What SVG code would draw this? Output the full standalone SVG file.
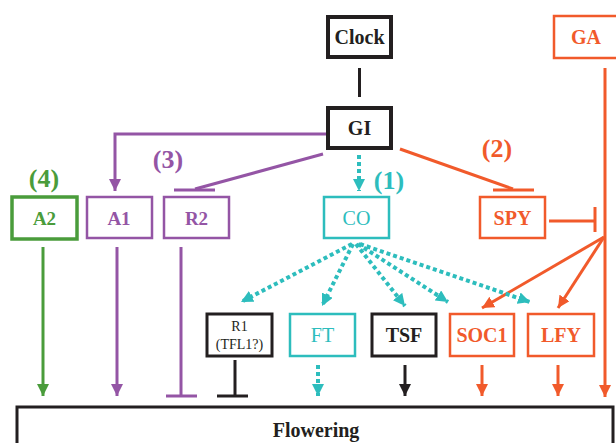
<svg xmlns="http://www.w3.org/2000/svg" width="616" height="443" viewBox="0 0 616 443">
  <style>
    .box { fill: #ffffff; }
    .lbl { font-family: 'Liberation Serif', 'Times New Roman', serif; text-anchor: middle; }
    .b { font-weight: bold; }
    .k { stroke: #231f20; }
    .o { stroke: #f15a2b; }
    .p { stroke: #9455a5; }
    .g { stroke: #4a9c3b; }
    .c { stroke: #2dbdbd; }
    .tk { fill: #231f20; }
    .to { fill: #f15a2b; }
    .tp { fill: #9455a5; }
    .tg { fill: #4a9c3b; }
    .tc { fill: #2dbdbd; }
    .ln { fill: none; stroke-width: 3; }
    .dot { fill: none; stroke-width: 4; stroke-dasharray: 4 3; }
  </style>
  <defs>
    <marker id="ah-k" viewBox="0 0 12 12" refX="12" refY="6" markerWidth="12" markerHeight="12" markerUnits="userSpaceOnUse" orient="auto"><path d="M0,0 L12,6 L0,12 Z" fill="#231f20"/></marker>
    <marker id="ah-o" viewBox="0 0 12 12" refX="12" refY="6" markerWidth="12" markerHeight="12" markerUnits="userSpaceOnUse" orient="auto"><path d="M0,0 L12,6 L0,12 Z" fill="#f15a2b"/></marker>
    <marker id="ah-p" viewBox="0 0 12 12" refX="12" refY="6" markerWidth="12" markerHeight="12" markerUnits="userSpaceOnUse" orient="auto"><path d="M0,0 L12,6 L0,12 Z" fill="#9455a5"/></marker>
    <marker id="ah-g" viewBox="0 0 12 12" refX="12" refY="6" markerWidth="12" markerHeight="12" markerUnits="userSpaceOnUse" orient="auto"><path d="M0,0 L12,6 L0,12 Z" fill="#4a9c3b"/></marker>
    <marker id="ah-c" viewBox="0 0 12 12" refX="12" refY="6" markerWidth="12" markerHeight="12" markerUnits="userSpaceOnUse" orient="auto"><path d="M0,0 L12,6 L0,12 Z" fill="#2dbdbd"/></marker>
  </defs>

  <!-- nodes -->
  <g id="clock"><rect class="box k" x="328" y="17" width="63" height="40" stroke-width="4"/><text class="lbl b tk" x="359.5" y="44" font-size="20">Clock</text></g>
  <g id="ga"><rect class="box o" x="554" y="16" width="70" height="42" stroke-width="2.5"/><text class="lbl b to" x="586" y="44" font-size="20">GA</text></g>
  <g id="gi"><rect class="box k" x="328" y="108" width="63" height="40" stroke-width="4"/><text class="lbl b tk" x="359.5" y="135" font-size="20">GI</text></g>
  <g id="a2"><rect class="box g" x="12" y="197" width="65" height="42" stroke-width="3.5"/><text class="lbl b tg" x="44.5" y="225" font-size="19">A2</text></g>
  <g id="a1"><rect class="box p" x="87" y="197" width="65" height="41" stroke-width="2.5"/><text class="lbl b tp" x="119" y="225" font-size="19">A1</text></g>
  <g id="r2"><rect class="box p" x="164" y="197" width="65" height="41" stroke-width="2.5"/><text class="lbl b tp" x="196.5" y="225" font-size="19">R2</text></g>
  <g id="co"><rect class="box c" x="324" y="197" width="65" height="41" stroke-width="2.5"/><text class="lbl tc" x="356.5" y="225" font-size="20">CO</text></g>
  <g id="spy"><rect class="box o" x="480" y="197" width="65" height="41" stroke-width="2.5"/><text class="lbl b to" x="512.5" y="225" font-size="20">SPY</text></g>
  <g id="r1"><rect class="box k" x="207" y="314" width="65" height="42" stroke-width="3"/><text class="lbl tk" x="239.5" y="331" font-size="14">R1</text><text class="lbl tk" x="239.5" y="349" font-size="14">(TFL1?)</text></g>
  <g id="ft"><rect class="box c" x="290" y="314" width="65" height="42" stroke-width="2.5"/><text class="lbl tc" x="322.5" y="342" font-size="20">FT</text></g>
  <g id="tsf"><rect class="box k" x="372" y="314" width="64" height="42" stroke-width="3"/><text class="lbl b tk" x="404" y="342" font-size="20">TSF</text></g>
  <g id="soc1"><rect class="box o" x="450" y="314" width="64" height="42" stroke-width="2.5"/><text class="lbl b to" x="482" y="342" font-size="20">SOC1</text></g>
  <g id="lfy"><rect class="box o" x="528" y="314" width="66" height="42" stroke-width="2.5"/><text class="lbl b to" x="561" y="342" font-size="20">LFY</text></g>
  <g id="flowering"><rect class="box k" x="17" y="407" width="596" height="60" stroke-width="3"/><text class="lbl b tk" x="316" y="437" font-size="20">Flowering</text></g>

  <!-- pathway labels -->
  <g id="labels">
    <text class="lbl b tc" x="389" y="189" font-size="26">(1)</text>
    <text class="lbl b to" x="497" y="157" font-size="26">(2)</text>
    <text class="lbl b tp" x="168" y="168" font-size="26">(3)</text>
    <text class="lbl b tg" x="44" y="187" font-size="26">(4)</text>
  </g>

  <!-- connectors -->
  <g id="connectors">
    <line class="ln k" x1="359.5" y1="68" x2="359.5" y2="97" stroke-width="4"/>
    <!-- GI to A1 / R2 -->
    <polyline class="ln p" points="326,134 115,134 115,191" marker-end="url(#ah-p)"/>
    <line class="ln p" x1="323" y1="154" x2="195" y2="189"/>
    <line class="ln p" x1="174" y1="190" x2="215" y2="190" stroke-width="4"/>
    <!-- GI to CO -->
    <line class="dot c" x1="359" y1="155" x2="359" y2="191" marker-end="url(#ah-c)"/>
    <!-- GI to SPY -->
    <line class="ln o" x1="400" y1="149" x2="513" y2="189"/>
    <line class="ln o" x1="493" y1="190" x2="534" y2="190" stroke-width="4"/>
    <!-- GA / SPY -->
    <line class="ln o" x1="605" y1="68" x2="605" y2="397" marker-end="url(#ah-o)"/>
    <line class="ln o" x1="549" y1="221" x2="595" y2="221"/>
    <line class="ln o" x1="595" y1="207" x2="595" y2="232"/>
    <line class="ln o" x1="604" y1="237" x2="482" y2="308" marker-end="url(#ah-o)"/>
    <line class="ln o" x1="604" y1="237" x2="558" y2="308" marker-end="url(#ah-o)"/>
    <!-- CO fan -->
    <line class="dot c" x1="352" y1="244" x2="241" y2="302" marker-end="url(#ah-c)"/>
    <line class="dot c" x1="353" y1="244" x2="322" y2="306" marker-end="url(#ah-c)"/>
    <line class="dot c" x1="356" y1="244" x2="405" y2="306" marker-end="url(#ah-c)"/>
    <line class="dot c" x1="358" y1="244" x2="448" y2="302" marker-end="url(#ah-c)"/>
    <line class="dot c" x1="360" y1="244" x2="530" y2="302" marker-end="url(#ah-c)"/>
    <!-- into Flowering -->
    <line class="ln g" x1="43" y1="247" x2="43" y2="396" marker-end="url(#ah-g)"/>
    <line class="ln p" x1="117" y1="247" x2="117" y2="396" marker-end="url(#ah-p)"/>
    <line class="ln p" x1="181" y1="247" x2="181" y2="396"/>
    <line class="ln p" x1="166" y1="396" x2="197" y2="396" stroke-width="4"/>
    <line class="ln k" x1="235" y1="360" x2="235" y2="396" stroke-width="3.5"/>
    <line class="ln k" x1="217" y1="396" x2="248" y2="396" stroke-width="4"/>
    <line class="dot c" x1="318" y1="365" x2="318" y2="396" marker-end="url(#ah-c)"/>
    <line class="ln k" x1="405" y1="365" x2="405" y2="396" marker-end="url(#ah-k)"/>
    <line class="ln o" x1="482" y1="365" x2="482" y2="396" marker-end="url(#ah-o)"/>
    <line class="ln o" x1="558" y1="365" x2="558" y2="396" marker-end="url(#ah-o)"/>
  </g>
</svg>
